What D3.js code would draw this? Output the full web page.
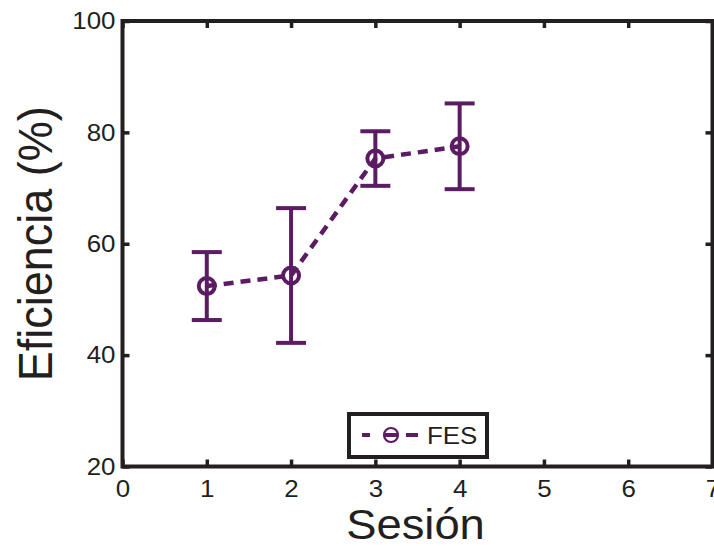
<!DOCTYPE html>
<html>
<head>
<meta charset="utf-8">
<script src="https://cdn.jsdelivr.net/npm/d3@7"></script>
<style>
  html, body { margin: 0; padding: 0; background: #fff; }
  svg { display: block; }
  text { font-family: "Liberation Sans", Arial, Helvetica, sans-serif; fill: #231f20; }
</style>
</head>
<body>
<svg id="chart" width="714" height="546"></svg>
<script>
// Session data: mean efficiency and standard deviation per session
const sessions = [1, 2, 3, 4];
const efficiency = [52.4, 54.3, 75.3, 77.5];
const deviation = [6.1, 12.1, 4.9, 7.7];
const seriesName = "FES";

const xTicks = [0, 1, 2, 3, 4, 5, 6, 7];
const yTicks = [20, 40, 60, 80, 100];

const W = 714, H = 546;
const plot = { left: 122.5, right: 712.5, top: 21, bottom: 466.5 };
const purple = "#5c1c64";
const ink = "#231f20";
const stretch = 1.08; // horizontal glyph stretch

const svg = d3.select("#chart");

const x = d3.scaleLinear().domain([0, 7]).range([plot.left, plot.right]);
const y = d3.scaleLinear().domain([20, 100]).range([plot.bottom, plot.top]);

// Axes with inward ticks on all four sides
function styleAxis(g) {
  g.select(".domain").remove();
  g.selectAll(".tick line").attr("stroke", ink).attr("stroke-width", 3.5);
  g.selectAll(".tick text").style("font-size", "24px").attr("fill", ink);
}

svg.append("g")
  .attr("transform", `translate(0,${plot.bottom})`)
  .call(d3.axisBottom(x).tickValues(xTicks).tickSize(-7).tickPadding(13).tickFormat(d3.format("d")))
  .call(styleAxis)
  .call(g => g.selectAll(".tick text").attr("transform", `scale(${stretch},1)`));

svg.append("g")
  .attr("transform", `translate(0,${plot.top})`)
  .call(d3.axisTop(x).tickValues(xTicks).tickSize(-7).tickFormat(""))
  .call(styleAxis);

svg.append("g")
  .attr("transform", `translate(${plot.left},0)`)
  .call(d3.axisLeft(y).tickValues(yTicks).tickSize(-7).tickPadding(7).tickFormat(d3.format("d")))
  .call(styleAxis)
  .call(g => g.selectAll(".tick text")
    .attr("x", -7 / stretch)
    .attr("transform", `scale(${stretch},1)`));

svg.append("g")
  .attr("transform", `translate(${plot.right},0)`)
  .call(d3.axisRight(y).tickValues(yTicks).tickSize(-7).tickFormat(""))
  .call(styleAxis);

// Plot frame
svg.append("rect")
  .attr("x", plot.left).attr("y", plot.top)
  .attr("width", plot.right - plot.left).attr("height", plot.bottom - plot.top)
  .attr("fill", "none").attr("stroke", ink).attr("stroke-width", 4);

// Axis titles
svg.append("text")
  .attr("transform", `translate(${(plot.left + plot.right) / 2 - 2},539) scale(${stretch},1)`)
  .attr("text-anchor", "middle")
  .style("font-size", "42px")
  .text("Sesión");

svg.append("text")
  .attr("transform", `translate(52,${(plot.top + plot.bottom) / 2}) scale(${stretch},1) rotate(-90)`)
  .attr("text-anchor", "middle")
  .style("font-size", "45px")
  .text("Eficiencia (%)");

// Series
const data = sessions.map((s, i) => ({ s, v: efficiency[i], e: deviation[i] }));
const series = svg.append("g");
const capHalf = 15;

// Error bars
const bars = series.selectAll("g.err").data(data).join("g").attr("class", "err")
  .attr("stroke", purple).attr("stroke-width", 4).attr("fill", "none");
bars.append("line")
  .attr("x1", d => x(d.s)).attr("x2", d => x(d.s))
  .attr("y1", d => y(d.v - d.e)).attr("y2", d => y(d.v + d.e));
bars.append("line")
  .attr("x1", d => x(d.s) - capHalf).attr("x2", d => x(d.s) + capHalf)
  .attr("y1", d => y(d.v + d.e)).attr("y2", d => y(d.v + d.e));
bars.append("line")
  .attr("x1", d => x(d.s) - capHalf).attr("x2", d => x(d.s) + capHalf)
  .attr("y1", d => y(d.v - d.e)).attr("y2", d => y(d.v - d.e));

// Dashed connecting line
series.append("path")
  .datum(data)
  .attr("d", d3.line().x(d => x(d.s)).y(d => y(d.v)))
  .attr("fill", "none").attr("stroke", purple)
  .attr("stroke-width", 4.5).attr("stroke-dasharray", "10,7");

// Open circle markers
series.selectAll("circle").data(data).join("circle")
  .attr("cx", d => x(d.s)).attr("cy", d => y(d.v)).attr("r", 8)
  .attr("fill", "none").attr("stroke", purple).attr("stroke-width", 4);

// Legend
const legend = svg.append("g");
legend.append("rect")
  .attr("x", 349).attr("y", 414).attr("width", 138).attr("height", 43)
  .attr("fill", "#fff").attr("stroke", ink).attr("stroke-width", 4);
legend.append("line")
  .attr("x1", 362).attr("x2", 418).attr("y1", 435).attr("y2", 435)
  .attr("stroke", purple).attr("stroke-width", 4)
  .attr("stroke-dasharray", "8 14 13 9 12");
legend.append("circle")
  .attr("cx", 391).attr("cy", 435).attr("r", 7)
  .attr("fill", "none").attr("stroke", purple).attr("stroke-width", 2.2);
legend.append("text")
  .attr("transform", `translate(427,443.5) scale(${stretch},1)`)
  .style("font-size", "24px")
  .text(seriesName);
</script>
</body>
</html>
